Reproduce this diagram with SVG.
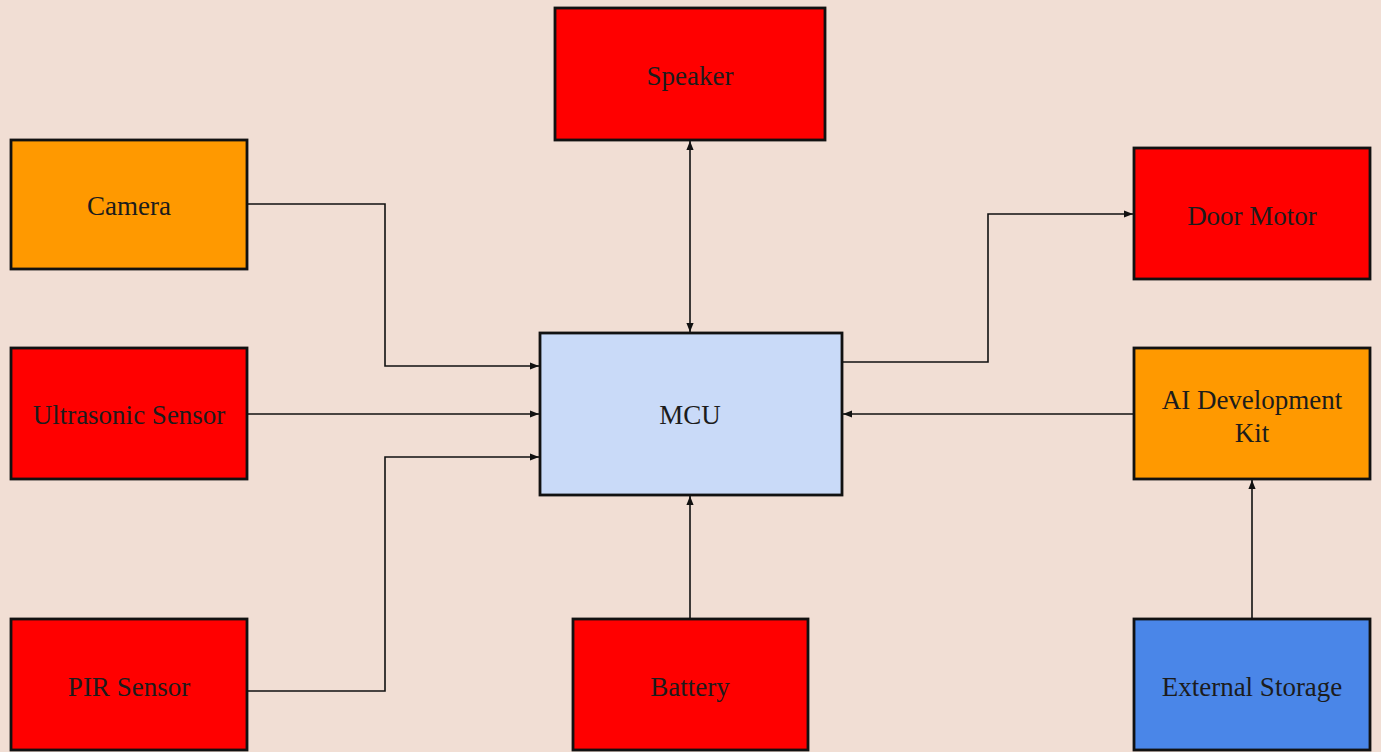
<svg xmlns="http://www.w3.org/2000/svg" width="1381" height="752" viewBox="0 0 1381 752">
<style>
.box{stroke:#111;stroke-width:2.8}
.red{fill:#ff0000}
.org{fill:#ff9900}
.lb{fill:#c9daf8}
.blu{fill:#4a86e8}
text{font-family:"Liberation Serif","Times New Roman",serif;font-size:27px;fill:#1c1c1c;text-anchor:middle;dominant-baseline:central}
.con{fill:none;stroke:#111;stroke-width:1.6}
</style>
<defs>
<marker id="ah" viewBox="0 0 10 10" refX="10" refY="5" markerWidth="9" markerHeight="9" markerUnits="userSpaceOnUse" orient="auto-start-reverse">
<path d="M0,1 L10,5 L0,9 Z" fill="#111"/>
</marker>
</defs>
<rect width="1381" height="752" fill="#f1ded4"/>
<g id="connectors">
<path class="con" d="M247,204 H385 V366 H539" marker-end="url(#ah)"/>
<path class="con" d="M247,414 H539" marker-end="url(#ah)"/>
<path class="con" d="M247,691 H385 V457 H539" marker-end="url(#ah)"/>
<path class="con" d="M690,141 V332" marker-start="url(#ah)" marker-end="url(#ah)"/>
<path class="con" d="M690,619 V496" marker-end="url(#ah)"/>
<path class="con" d="M842,362 H988 V214 H1133" marker-end="url(#ah)"/>
<path class="con" d="M1134,414 H843" marker-end="url(#ah)"/>
<path class="con" d="M1252,619 V480" marker-end="url(#ah)"/>
</g>
<g id="speaker"><rect class="box red" x="555" y="8" width="270" height="132"/><text x="690" y="76">Speaker</text></g>
<g id="camera"><rect class="box org" x="11" y="140" width="236" height="129"/><text x="129" y="206">Camera</text></g>
<g id="ultrasonic"><rect class="box red" x="11" y="348" width="236" height="131"/><text x="129" y="415">Ultrasonic Sensor</text></g>
<g id="pir"><rect class="box red" x="11" y="619" width="236" height="131"/><text x="129" y="687">PIR Sensor</text></g>
<g id="mcu"><rect class="box lb" x="540" y="333" width="302" height="162"/><text x="690" y="415">MCU</text></g>
<g id="battery"><rect class="box red" x="573" y="619" width="235" height="131"/><text x="690" y="687">Battery</text></g>
<g id="doormotor"><rect class="box red" x="1134" y="148" width="236" height="131"/><text x="1252" y="216">Door Motor</text></g>
<g id="aikit"><rect class="box org" x="1134" y="348" width="236" height="131"/><text x="1252" y="400">AI Development</text><text x="1252" y="433">Kit</text></g>
<g id="storage"><rect class="box blu" x="1134" y="619" width="236" height="131"/><text x="1252" y="687">External Storage</text></g>
</svg>
